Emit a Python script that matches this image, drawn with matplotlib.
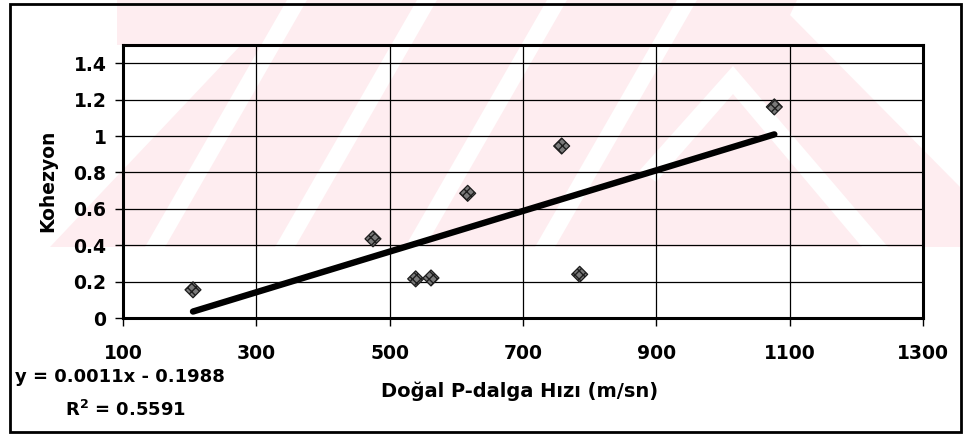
import matplotlib
matplotlib.use("Agg")
import matplotlib.pyplot as plt
from matplotlib.patches import Polygon, Rectangle
import numpy as np

# data
hiz = [205, 475, 539, 562, 617, 758, 785, 1077]
kohezyon = [0.155, 0.435, 0.215, 0.22, 0.685, 0.945, 0.24, 1.16]
xticks = [100, 300, 500, 700, 900, 1100, 1300]
yticks = [0, 0.2, 0.4, 0.6, 0.8, 1.0, 1.2, 1.4]
ytick_labels = ["0", "0.2", "0.4", "0.6", "0.8", "1", "1.2", "1.4"]
eq_text = "y = 0.0011x - 0.1988"
r2_text = "R$^2$ = 0.5591"

W, H = 963, 434
plt.rcParams['font.family'] = ['DejaVu Sans']
plt.rcParams['font.weight'] = 'bold'
plt.rcParams['mathtext.default'] = 'bf'

fig = plt.figure(figsize=(W / 100, H / 100), dpi=100)


def px(pts):
    # pixel coords (top-left origin) -> figure fraction
    return [(x / W, 1 - y / H) for x, y in pts]


# faint pink watermark of the scanned page
pink = '#feedf0'
base = [(117, 0), (797, 0), (790, 15), (963, 190), (963, 247), (50, 247),
        (241, 45), (117, 45)]
fig.add_artist(Polygon(px(base), closed=True, fc=pink, ec='none', zorder=0))
for x0 in [297, 427, 557, 687]:
    s = [(x0 - 10, 0), (x0 + 10, 0), (x0 + 10 - 142, 247), (x0 - 10 - 142, 247)]
    fig.add_artist(Polygon(px(s), closed=True, fc='white', ec='none', zorder=0))
chev = [(640, 170), (733, 66), (888, 247), (862, 247), (733, 94), (656, 182)]
fig.add_artist(Polygon(px(chev), closed=True, fc='white', ec='none', zorder=0))

# outer frame
fig.add_artist(Rectangle((10 / W, 1 - 432 / H), 951 / W, 428 / H,
                         transform=fig.transFigure, fill=False, ec='black', lw=2))

ax = fig.add_axes([123 / W, 1 - 318 / H, 800 / W, 273 / H])
ax.set_facecolor('none')

ax.scatter(hiz, kohezyon, marker='D', s=66, fc='#7a7a7a', ec='#1e1e1e',
           hatch='xxxx', lw=0.9, zorder=4)

k, b = np.polyfit(hiz, kohezyon, 1)
xl = np.array([min(hiz), max(hiz)])
ax.plot(xl, k * xl + b, color='black', lw=4.6, solid_capstyle='round', zorder=3)

ax.set_xlim(100, 1300)
ax.set_ylim(0, 1.5)
ax.set_xticks(xticks)
ax.set_xticklabels([str(t) for t in xticks])
ax.set_yticks(yticks)
ax.set_yticklabels(ytick_labels)
ax.grid(True, color='black', lw=0.9)
ax.set_axisbelow(True)
for sp in ax.spines.values():
    sp.set_linewidth(2.2)
ax.tick_params(axis='both', length=6, width=1, labelsize=13.5, direction='out')
ax.tick_params(axis='x', pad=13)
ax.tick_params(axis='y', pad=6)

fig.text(48 / W, 1 - 181 / H, "Kohezyon", rotation=90, ha='center', va='center',
         fontsize=13.5, fontweight='bold')
fig.text(520 / W, 1 - 391 / H, "Doğal P-dalga Hızı (m/sn)", ha='center',
         va='center', fontsize=14, fontweight='bold')
fig.text(15 / W, 1 - 377 / H, eq_text, ha='left', va='center', fontsize=13,
         fontweight='bold')
fig.text(65 / W, 1 - 410 / H, r2_text, ha='left', va='center', fontsize=13,
         fontweight='bold')

fig.savefig("out.png", dpi=100)
